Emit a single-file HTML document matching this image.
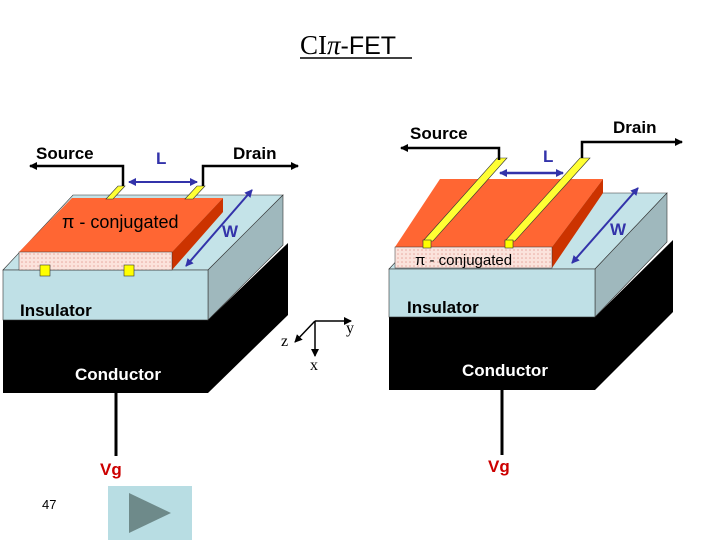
<!DOCTYPE html>
<html><head><style>
body{margin:0;background:#fff;width:720px;height:540px;overflow:hidden}
svg{display:block}
.s{font-family:"Liberation Sans",sans-serif;font-weight:bold}
</style></head><body>
<svg width="720" height="540" viewBox="0 0 720 540" xmlns="http://www.w3.org/2000/svg">
<defs>
<marker id="ak" markerWidth="8" markerHeight="8" refX="7" refY="4" orient="auto" markerUnits="userSpaceOnUse"><path d="M0,0 L8,4 L0,8z" fill="#000"/></marker>
<marker id="ab" markerWidth="8" markerHeight="8" refX="7" refY="4" orient="auto-start-reverse" markerUnits="userSpaceOnUse"><path d="M0,0 L8,4 L0,8z" fill="#3333aa"/></marker>
<pattern id="pk" width="4" height="4" patternUnits="userSpaceOnUse"><rect width="4" height="4" fill="#fbe3dc"/><circle cx="2" cy="2" r="0.8" fill="#e8a8a0"/></pattern>
</defs>
<!-- Title -->
<text x="300" y="54" font-family="Liberation Serif,serif" font-size="27">CI<tspan font-style="italic">π</tspan><tspan font-family="Liberation Sans,sans-serif" font-size="25">-FET</tspan></text>
<line x1="300" y1="58" x2="412" y2="58" stroke="#000" stroke-width="1.5"/>

<!-- LEFT DEVICE -->
<polygon points="208,320 288,243 288,315 208,393" fill="#000"/>
<rect x="3" y="320" width="205" height="73" fill="#000"/>
<polygon points="3,270 73,195 283,195 208,270" fill="#c4e3e8" stroke="#333" stroke-width="0.6"/>
<polygon points="208,270 283,195 283,245 208,320" fill="#9fb8bd" stroke="#333" stroke-width="0.6"/>
<rect x="3" y="270" width="205" height="50" fill="#bfe0e6" stroke="#333" stroke-width="0.6"/>
<polygon points="19,252 72,198 223,198 172,252" fill="#ff6633"/>
<polygon points="172,252 223,198 223,212 172,270" fill="#cc3300"/>
<rect x="19" y="252" width="153" height="18" fill="url(#pk)" stroke="#333" stroke-width="0.5"/>
<rect x="40" y="265" width="10" height="11" fill="#ffff00" stroke="#333" stroke-width="0.6"/>
<rect x="124" y="265" width="10" height="11" fill="#ffff00" stroke="#333" stroke-width="0.6"/>
<polygon points="106,199 118,186 125,186 113,199" fill="#ffff33" stroke="#333" stroke-width="0.6"/>
<polygon points="185,199 197,186 205,186 193,199" fill="#ffff33" stroke="#333" stroke-width="0.6"/>
<polyline points="123,186 123,166 30,166" fill="none" stroke="#000" stroke-width="2.5" marker-end="url(#ak)"/>
<polyline points="203,186 203,166 298,166" fill="none" stroke="#000" stroke-width="2.5" marker-end="url(#ak)"/>
<line x1="129" y1="182" x2="197" y2="182" stroke="#3333aa" stroke-width="2" marker-start="url(#ab)" marker-end="url(#ab)"/>
<line x1="186" y1="266" x2="252" y2="190" stroke="#3333aa" stroke-width="2" marker-start="url(#ab)" marker-end="url(#ab)"/>
<line x1="116" y1="393" x2="116" y2="456" stroke="#000" stroke-width="3"/>
<text class="s" x="36" y="159" font-size="17">Source</text>
<text class="s" x="156" y="164" font-size="17" fill="#3333aa">L</text>
<text class="s" x="233" y="159" font-size="17">Drain</text>
<text x="62" y="228" font-family="Liberation Sans,sans-serif" font-size="18">π - conjugated</text>
<text class="s" x="222" y="237" font-size="17" fill="#3333aa">W</text>
<text class="s" x="20" y="316" font-size="17">Insulator</text>
<text class="s" x="75" y="380" font-size="17" fill="#fff">Conductor</text>
<text class="s" x="100" y="475" font-size="17" fill="#cc0000">Vg</text>

<!-- Axes -->
<line x1="315" y1="321" x2="351" y2="321" stroke="#000" stroke-width="1.5" marker-end="url(#ak)"/>
<line x1="315" y1="321" x2="315" y2="356" stroke="#000" stroke-width="1.5" marker-end="url(#ak)"/>
<line x1="315" y1="321" x2="295" y2="342" stroke="#000" stroke-width="1.5" marker-end="url(#ak)"/>
<text x="346" y="333" font-family="Liberation Serif,serif" font-size="16">y</text>
<text x="310" y="370" font-family="Liberation Serif,serif" font-size="16">x</text>
<text x="281" y="346" font-family="Liberation Serif,serif" font-size="16">z</text>

<!-- RIGHT DEVICE -->
<polygon points="595,317 673,240 673,312 595,390" fill="#000"/>
<rect x="389" y="317" width="206" height="73" fill="#000"/>
<polygon points="389,269 460,193 667,193 595,269" fill="#c4e3e8" stroke="#333" stroke-width="0.6"/>
<polygon points="595,269 667,193 667,242 595,317" fill="#9fb8bd" stroke="#333" stroke-width="0.6"/>
<rect x="389" y="269" width="206" height="48" fill="#bfe0e6" stroke="#333" stroke-width="0.6"/>
<polygon points="395,247 440,179 603,179 552,247" fill="#ff6633"/>
<polygon points="552,247 603,179 603,193 552,268" fill="#cc3300"/>
<rect x="395" y="247" width="157" height="21" fill="url(#pk)" stroke="#333" stroke-width="0.5"/>
<polygon points="423,241 497,158 507,158 433,241" fill="#ffff33" stroke="#333" stroke-width="0.6"/>
<rect x="423" y="240" width="8" height="8" fill="#ffff00" stroke="#333" stroke-width="0.6"/>
<polygon points="505,241 580,158 590,158 515,241" fill="#ffff33" stroke="#333" stroke-width="0.6"/>
<rect x="505" y="240" width="8" height="8" fill="#ffff00" stroke="#333" stroke-width="0.6"/>
<polyline points="499,160 499,148 401,148" fill="none" stroke="#000" stroke-width="2.5" marker-end="url(#ak)"/>
<polyline points="582,158 582,142 682,142" fill="none" stroke="#000" stroke-width="2.5" marker-end="url(#ak)"/>
<line x1="500" y1="173" x2="563" y2="173" stroke="#3333aa" stroke-width="2.5" marker-start="url(#ab)" marker-end="url(#ab)"/>
<line x1="572" y1="263" x2="638" y2="188" stroke="#3333aa" stroke-width="2" marker-start="url(#ab)" marker-end="url(#ab)"/>
<line x1="502" y1="390" x2="502" y2="455" stroke="#000" stroke-width="3"/>
<text class="s" x="410" y="139" font-size="17">Source</text>
<text class="s" x="543" y="162" font-size="17" fill="#3333aa">L</text>
<text class="s" x="613" y="133" font-size="17">Drain</text>
<text x="415" y="265" font-family="Liberation Sans,sans-serif" font-size="15">π - conjugated</text>
<text class="s" x="610" y="235" font-size="17" fill="#3333aa">W</text>
<text class="s" x="407" y="313" font-size="17">Insulator</text>
<text class="s" x="462" y="376" font-size="17" fill="#fff">Conductor</text>
<text class="s" x="488" y="472" font-size="17" fill="#cc0000">Vg</text>

<!-- footer -->
<text x="42" y="509" font-family="Liberation Sans,sans-serif" font-size="13">47</text>
<rect x="108" y="486" width="84" height="54" fill="#b8dde3"/>
<polygon points="129,493 171,513 129,533" fill="#6e8a8a"/>
</svg>
</body></html>
